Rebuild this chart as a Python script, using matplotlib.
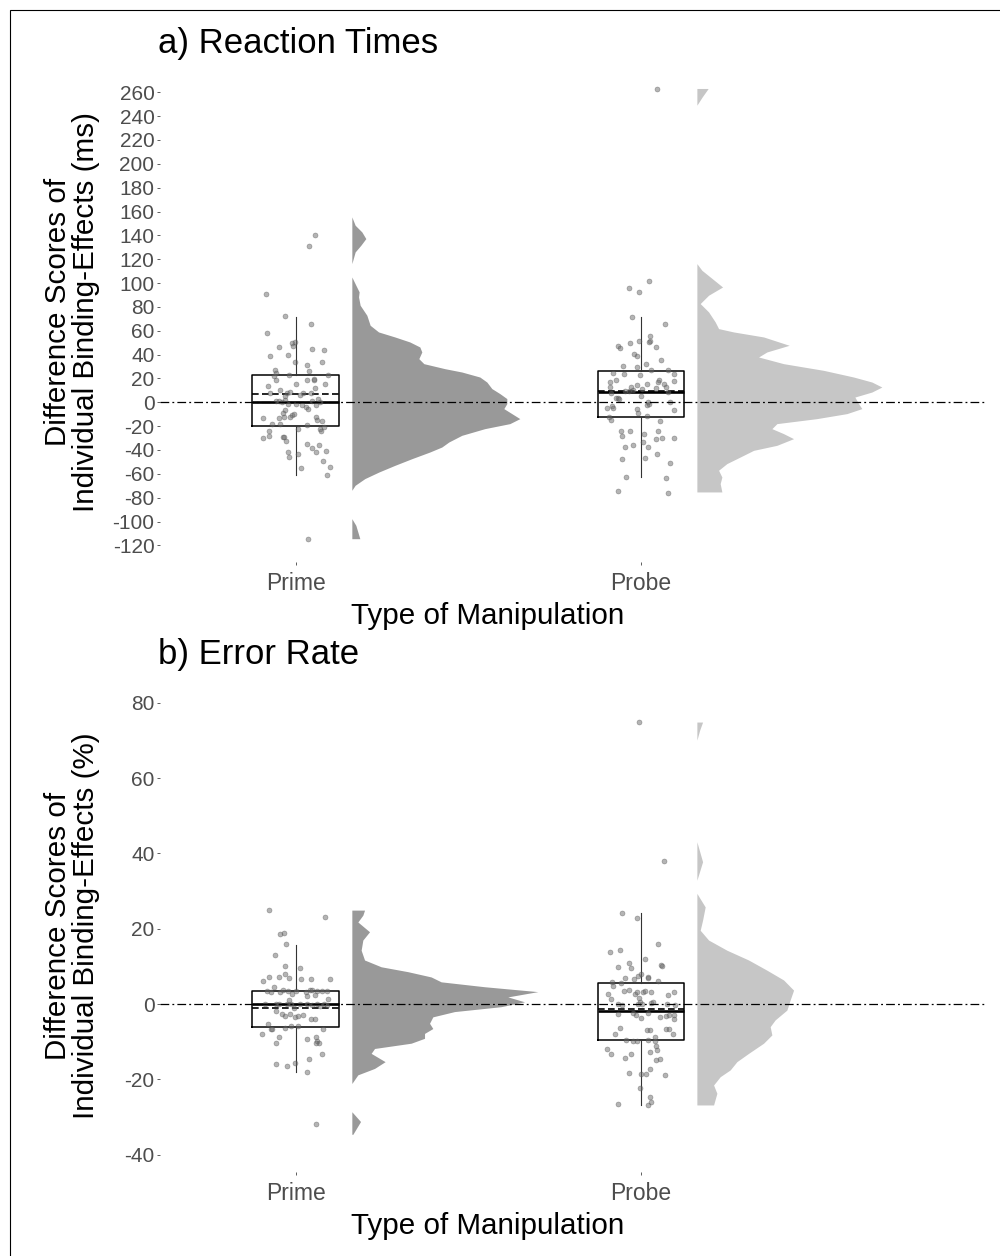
import numpy as np
import matplotlib
matplotlib.use("Agg")
import matplotlib.pyplot as plt
from matplotlib.patches import Rectangle

plt.rcParams['font.family'] = ['Liberation Sans', 'DejaVu Sans']
plt.rcParams['axes.unicode_minus'] = False

categories = ['Prime', 'Probe']

# ---- a) reaction times: jittered points (x offset from category, value in ms)
rt_prime_dx = [0.055, 0.038, -0.087, -0.032, 0.043, -0.084, -0.012, -0.009, -0.003, -0.049,
               0.046, 0.081, -0.075, -0.023, -0.003, 0.075, 0.032, 0.038, -0.061, -0.058,
               -0.064, -0.020, 0.093, -0.058, 0.032, 0.052, 0.052, 0.0, 0.084, -0.081,
               0.055, -0.046, -0.075, -0.026, -0.017, 0.012, 0.020, 0.043, -0.032, -0.058,
               -0.049, -0.041, -0.032, 0.046, 0.064, 0.070, 0.0, 0.017, 0.029, 0.035,
               0.058, -0.023, -0.032, -0.038, -0.012, -0.006, -0.017, -0.049, -0.035, -0.096,
               0.058, 0.061, 0.075, -0.070, -0.046, 0.032, 0.006, 0.070, 0.072, 0.081,
               -0.078, -0.078, -0.096, -0.038, -0.035, -0.029, 0.032, 0.046, 0.067, 0.058,
               0.087, -0.023, -0.020, 0.006, 0.078, 0.099, 0.014, 0.090, 0.035]
rt_prime_y = [140.1, 130.9, 90.6, 72.1, 65.4, 57.9, 49.5, 47.0, 50.3, 46.1,
              44.5, 43.6, 38.6, 39.4, 33.6, 33.6, 31.0, 26.0, 26.8, 24.3,
              21.8, 22.7, 22.7, 18.5, 18.5, 18.5, 19.3, 15.1, 15.1, 13.4,
              11.7, 10.1, 7.6, 7.6, 8.4, 5.9, 7.6, 7.6, 5.0, 0.8,
              0.8, 0.0, 1.7, 0.8, 2.5, 0.0, -1.7, -2.5, -4.2, -5.9,
              -2.5, -1.7, -6.7, -9.2, -10.9, -10.1, -12.6, -13.4, -12.6, -13.4,
              -12.6, -15.1, -15.9, -18.5, -18.5, -19.3, -22.7, -22.7, -24.3, -21.0,
              -24.3, -28.5, -30.2, -29.4, -28.8, -32.7, -35.2, -38.6, -36.1, -41.9,
              -41.1, -41.9, -46.1, -43.6, -49.5, -54.5, -55.4, -61.2, -114.9]

rt_probe_dx = [0.046, 0.023, -0.035, -0.006, -0.026, 0.070, 0.026, 0.026, 0.023, -0.032,
               -0.006, -0.067, -0.061, 0.043, -0.020, -0.012, 0.058, -0.052, -0.012, 0.014,
               0.029, 0.078, 0.096, -0.081, -0.049, -0.003, -0.072, -0.090, -0.090, 0.096,
               0.052, 0.049, 0.017, -0.012, -0.029, -0.023, -0.035, 0.067, 0.072, 0.078,
               0.003, 0.043, -0.046, -0.087, 0.0, -0.072, -0.067, -0.064, 0.084, 0.020,
               0.017, 0.023, -0.084, -0.099, -0.081, -0.012, -0.009, 0.096, -0.093, -0.087,
               0.017, 0.055, -0.058, -0.055, -0.032, 0.009, 0.049, 0.061, 0.043, 0.096,
               0.006, -0.046, -0.023, 0.020, 0.046, -0.055, 0.012, 0.084, -0.043, 0.072,
               -0.067, 0.078]
rt_probe_y = [262.6, 101.5, 95.6, 92.3, 71.3, 65.4, 55.4, 51.2, 50.3, 49.5,
              51.2, 47.0, 45.3, 46.1, 40.3, 38.6, 35.2, 30.2, 29.4, 31.9,
              26.8, 26.8, 23.5, 24.3, 23.5, 22.7, 18.5, 16.8, 12.6, 17.6,
              18.5, 16.8, 15.1, 14.3, 12.6, 10.1, 9.2, 15.1, 12.6, 8.4,
              10.9, 12.2, 9.2, 7.6, 5.0, 3.4, 3.4, 2.5, 0.0, 0.0,
              -2.5, -1.7, -3.4, -5.0, -5.0, -5.9, -9.2, -6.7, -12.6, -15.1,
              -11.7, -15.9, -24.3, -28.5, -24.3, -26.8, -24.3, -30.2, -31.0, -30.2,
              -33.6, -37.8, -36.1, -37.8, -43.6, -47.8, -47.0, -51.2, -62.9, -63.8,
              -74.7, -76.3]

# ---- b) error rates: jittered points (x offset, value in %)
er_prime_dx = [-0.079, 0.083, -0.046, -0.035, -0.030, -0.062, -0.033, 0.012, -0.078, -0.048,
               -0.021, -0.033, 0.015, 0.043, 0.099, -0.095, -0.063, -0.085, -0.073, -0.046,
               -0.037, -0.023, -0.012, 0.001, 0.029, 0.041, 0.046, 0.062, 0.075, 0.089,
               0.033, 0.055, 0.093, -0.019, -0.089, -0.057, -0.014, 0.012, 0.033, 0.060,
               0.082, -0.048, -0.027, 0.046, 0.070, 0.089, -0.005, -0.058, -0.041, -0.032,
               -0.017, -0.004, 0.006, 0.020, 0.043, 0.054, -0.082, -0.073, -0.070, -0.032,
               -0.015, 0.007, 0.079, -0.097, -0.049, -0.059, 0.031, 0.059, 0.062, 0.067,
               0.057, 0.075, 0.039, -0.057, -0.025, -0.004, 0.032, 0.057]
er_prime_y = [25.0, 23.1, 18.6, 18.9, 15.9, 13.0, 10.2, 9.6, 7.2, 7.1,
              6.9, 7.9, 6.7, 6.6, 6.7, 6.0, 4.4, 3.5, 3.1, 3.3,
              3.7, 3.4, 2.7, 3.4, 3.2, 3.7, 3.7, 3.5, 3.6, 3.5,
              2.2, 2.4, 1.4, 1.1, 0.0, 0.0, 0.0, 0.0, 0.0, 0.0,
              0.0, -0.1, -0.1, -0.3, -0.5, -0.3, -1.1, -1.9, -2.7, -3.3,
              -2.7, -3.4, -3.1, -3.0, -4.1, -4.0, -5.2, -6.5, -6.6, -6.3,
              -5.8, -5.9, -6.6, -8.0, -8.7, -10.4, -9.4, -8.8, -9.9, -10.3,
              -10.4, -13.2, -14.5, -15.8, -16.4, -15.6, -18.1, -31.9]

er_probe_dx = [-0.006, 0.067, -0.054, -0.011, 0.048, -0.089, -0.060, 0.012, -0.067, -0.036,
               -0.030, 0.058, 0.061, -0.047, -0.019, -0.010, 0.0, 0.020, 0.021, 0.050,
               -0.085, -0.082, -0.058, -0.050, -0.034, -0.018, -0.012, 0.005, 0.011, 0.030,
               0.077, 0.096, -0.095, -0.087, -0.005, -0.004, -0.008, 0.004, 0.030, 0.036,
               -0.067, -0.054, 0.075, 0.099, -0.023, -0.014, 0.019, -0.066, 0.054, 0.073,
               0.080, 0.097, 0.097, -0.001, -0.060, 0.017, 0.026, 0.073, 0.080, -0.075,
               0.094, -0.043, -0.024, -0.012, 0.019, 0.041, 0.041, 0.043, 0.047, -0.099,
               -0.088, 0.027, -0.046, -0.030, 0.043, 0.054, -0.034, 0.0, 0.014, 0.025,
               0.070, -0.002, -0.067, 0.019, 0.025, 0.029]
er_probe_y = [75.0, 38.1, 24.2, 22.8, 15.9, 13.7, 14.3, 11.9, 9.9, 11.0,
              9.5, 10.3, 10.0, 7.0, 6.6, 7.4, 8.1, 7.2, 6.9, 6.0,
              5.8, 4.8, 5.7, 3.5, 3.8, 2.7, 3.2, 3.2, 3.4, 3.2,
              2.5, 3.3, 2.8, 1.3, 1.5, 0.6, 0.1, 0.0, 0.3, 0.6,
              -0.1, -0.3, 0.1, -0.3, -2.3, -2.8, -2.5, -2.7, -3.4, -3.1,
              -3.0, -2.8, -4.1, -3.6, -6.3, -6.9, -6.8, -6.5, -6.7, -8.0,
              -7.9, -9.6, -9.9, -9.9, -9.6, -8.7, -9.7, -11.1, -12.2, -11.9,
              -13.3, -12.7, -14.3, -13.2, -14.9, -14.7, -18.2, -18.5, -18.6, -17.3,
              -18.9, -22.3, -26.5, -26.9, -24.8, -26.1]

# ---- half-violin density profiles (value, density in arbitrary units)
rt_prime_dens_y = [155.5, 148.5, 142.9, 137.3, 131.7, 126.1, 116.3, 105.1, 98.2, 92.6,
                   88.4, 81.4, 73.0, 64.6, 59.0, 54.8, 50.6, 46.4, 42.2, 36.6,
                   32.4, 28.2, 25.4, 21.2, 17.0, 11.5, 7.3, 3.1, -1.1, -5.3,
                   -9.5, -13.7, -17.9, -22.1, -27.7, -33.3, -37.5, -41.7, -47.3, -52.9,
                   -58.5, -64.0, -69.6, -73.8, -97.6, -103.2, -108.8, -114.4]
rt_prime_dens = [0, 3.3, 10, 14, 9, 3.3, 0, 0, 4, 7.3,
                 6.7, 8.3, 15, 18.3, 26.7, 43, 58, 68, 70, 67,
                 72, 93, 110, 128, 135, 140, 148, 155, 155, 152,
                 160, 168, 158, 133, 110, 97, 90, 78, 60, 43,
                 27, 13, 3.3, 0, 0, 4, 6, 8]

rt_probe_dens_y = [263.2, 256.1, 249.2, 116.3, 110.7, 105.1, 96.7, 89.8, 82.8, 75.8,
                   67.4, 61.8, 59.0, 54.8, 47.8, 42.2, 38.0, 32.4, 26.8, 21.2,
                   17.0, 12.8, 8.6, 4.4, -1.1, -5.3, -9.5, -13.7, -17.9, -22.1,
                   -26.3, -30.5, -36.1, -40.3, -45.9, -51.4, -57.0, -62.7, -68.2, -75.2]
rt_probe_dens = [11.3, 5.3, 0, 0, 5, 13.3, 25.7, 11.7, 3.3, 11.7,
                 18.3, 21.7, 36.7, 66.7, 92.3, 70, 61.7, 86.7, 126.7, 156.7,
                 175, 185, 175, 158, 161.7, 165, 150, 120, 80, 75,
                 86.7, 96.7, 80, 56.7, 43.3, 30, 21.7, 25, 23.3, 25]

er_prime_dens_y = [24.95, 23.6, 21.8, 19.2, 17.0, 14.3, 11.7, 9.9, 8.6, 7.2,
                   5.9, 4.6, 3.3, 1.9, 0.6, -0.7, -2.0, -3.4, -5.1, -6.5,
                   -7.8, -9.1, -10.4, -11.8, -13.1, -15.3, -17.1, -18.8, -21.1, -28.6,
                   -31.2, -34.6]
er_prime_dens = [12.7, 11, 6, 17.7, 11, 9.3, 12.7, 29.3, 56, 79.3,
                 89.3, 132.7, 186, 156, 172.7, 149.3, 102.7, 81, 77.7, 81,
                 72.7, 72.7, 59.3, 22.7, 19.3, 33.3, 22.7, 6, 0, 0,
                 8.7, 1]

er_probe_dens_y = [74.9, 72.7, 70.1, 43.1, 37.8, 32.9, 29.4, 25.8, 22.3, 19.6,
                   17.0, 14.3, 11.7, 9.0, 6.4, 3.7, 1.1, -1.6, -4.2, -6.0,
                   -8.2, -10.4, -13.1, -15.3, -17.5, -19.3, -21.5, -23.7, -26.8]
er_probe_dens = [5.7, 2.7, 0, 0, 5.7, 0, 0, 8.3, 5.7, 3.3,
                 11.7, 30, 51.7, 70, 86.7, 96.7, 93.3, 90, 78.3, 73.3,
                 75, 66.7, 51.7, 40, 33.3, 23.3, 16.7, 20, 16.7]

# ---- box summaries: (whisker low, q1, median, q3, whisker high, mean)
rt_box = [(-61.2, -20.1, 0.0, 22.7, 71.3, 6.7),
          (-62.9, -12.6, 8.4, 26.0, 71.3, 9.2)]
er_box = [(-18.1, -6.0, 0.1, 3.5, 15.8, -1.0),
          (-26.8, -9.6, -1.9, 5.7, 24.1, -1.2)]

dens_max = max(max(rt_prime_dens), max(rt_probe_dens), max(er_prime_dens), max(er_probe_dens))
violin_colors = ['#999999', '#c6c6c6']


def draw_panel(ax, pts, dens, boxes, yticks, ylim):
    for i, (dx, yy) in enumerate(pts):
        ax.scatter(np.array(dx) + i + 1, yy, s=13, c='#6a6a6a', alpha=0.5,
                   edgecolors='#4a4a4a', linewidths=0.4, zorder=3)
    for i, (dy, dd) in enumerate(dens):
        base = i + 1 + 0.162
        ax.fill_betweenx(dy, base, base + np.array(dd) / dens_max * 0.539,
                         color=violin_colors[i], linewidth=0, zorder=1)
    stats = []
    for lo, q1, med, q3, hi, mean in boxes:
        stats.append(dict(whislo=lo, q1=q1, med=med, q3=q3, whishi=hi, mean=mean, fliers=[]))
    ax.bxp(stats, positions=[1, 2], widths=0.252, showcaps=False, showfliers=False,
           showmeans=True, meanline=True, patch_artist=False, manage_ticks=False,
           boxprops=dict(color='black', linewidth=1.1),
           whiskerprops=dict(color='#333333', linewidth=0.8),
           medianprops=dict(color='black', linewidth=1.9),
           meanprops=dict(color='black', linewidth=1.2, linestyle=(0, (4, 2))),
           zorder=2)
    ax.axhline(0, color='black', linewidth=0.9, linestyle=(0, (7, 2.5, 1.5, 2.5)), zorder=4)
    ax.set_xlim(0.606, 2.997)
    ax.set_ylim(*ylim)
    ax.set_yticks(yticks)
    ax.set_xticks([1, 2])
    ax.set_xticklabels(categories)
    for s in ax.spines.values():
        s.set_visible(False)
    ax.tick_params(axis='both', length=2.5, width=0.6, color='#444444',
                   labelcolor='#4d4d4d', labelsize=15, pad=1.5)
    ax.tick_params(axis='x', labelsize=16.5, pad=5)


fig = plt.figure(figsize=(10, 12.56), dpi=100)

ax_a = fig.add_axes([0.16, 0.5525, 0.825, 0.3949])
draw_panel(ax_a,
           [(rt_prime_dx, rt_prime_y), (rt_probe_dx, rt_probe_y)],
           [(rt_prime_dens_y, rt_prime_dens), (rt_probe_dens_y, rt_probe_dens)],
           rt_box, np.arange(-120, 261, 20), (-134, 282))

ax_b = fig.add_axes([0.16, 0.0669, 0.825, 0.375])
draw_panel(ax_b,
           [(er_prime_dx, er_prime_y), (er_probe_dx, er_probe_y)],
           [(er_prime_dens_y, er_prime_dens), (er_probe_dens_y, er_probe_dens)],
           er_box, np.arange(-40, 81, 20), (-44.6, 80.5))

fig.text(0.158, 1 - 44 / 1256, 'a) Reaction Times', fontsize=25, va='center', ha='left')
fig.text(0.158, 1 - 654 / 1256, 'b) Error Rate', fontsize=25, va='center', ha='left')
fig.text(0.488, 1 - 616 / 1256, 'Type of Manipulation', fontsize=21.3, va='center', ha='center')
fig.text(0.488, 1 - 1226 / 1256, 'Type of Manipulation', fontsize=21.3, va='center', ha='center')
fig.text(0.072, 1 - 312 / 1256, 'Difference Scores of\nIndividual Binding-Effects (ms)',
         fontsize=21.3, rotation=90, va='center', ha='center', multialignment='center',
         linespacing=1.0)
fig.text(0.072, 1 - 926 / 1256, 'Difference Scores of\nIndividual Binding-Effects (%)',
         fontsize=21.3, rotation=90, va='center', ha='center', multialignment='center',
         linespacing=1.0)

top = 1 - 10 / 1256
fig.patches.append(Rectangle((0.010, -0.1), 1.5, top + 0.1, transform=fig.transFigure,
                             fill=False, edgecolor='black', linewidth=0.8))

fig.savefig('out.png', dpi=100)
